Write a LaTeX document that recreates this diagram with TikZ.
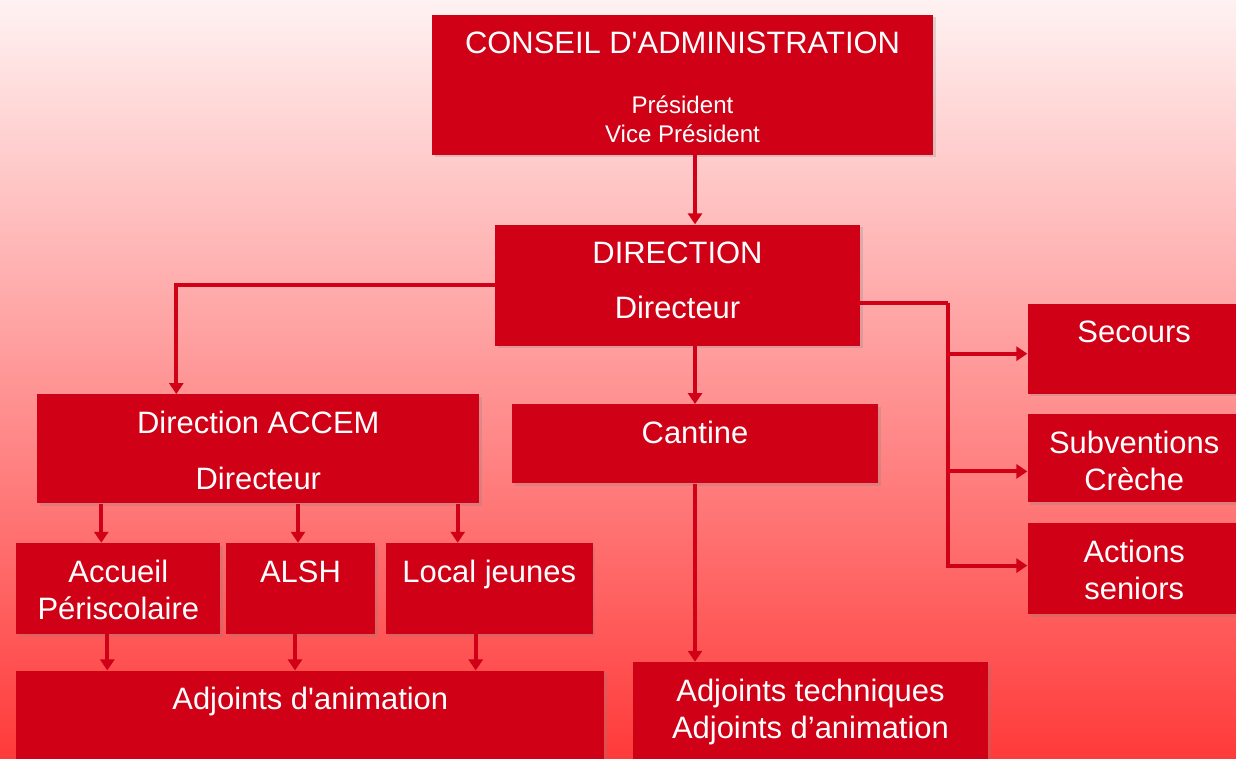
\documentclass[tikz,border=0pt]{standalone}
\usepackage{fontspec}
\setmainfont{Liberation Sans}
\usetikzlibrary{positioning, arrows.meta, shadows}
\definecolor{boxred}{RGB}{208,0,22}
\definecolor{bgtop}{RGB}{255,242,242}
\definecolor{bgbot}{RGB}{255,58,58}
\newcommand{\orgtext}[3]{\parbox[c][#2][t]{#1}{\centering\rule{0pt}{0.78cm}#3}}
\newcommand{\subfont}{\fontsize{13.7}{16.5}\selectfont}
\tikzstyle{orgbox} = [rectangle, 
inner sep=0pt, 
fill=boxred, 
text=white, 
font=\fontsize{17.6}{21}\selectfont, 
drop shadow={opacity=0.25, shadow xshift=0.05cm, shadow yshift=-0.05cm}]
\tikzstyle{link} = [line width=0.08cm, draw=boxred]
\tikzstyle{arrow} = [link, -{Triangle[width=0.28cm, length=0.22cm]}]
\begin{document}
\begin{tikzpicture}
  \clip (0,0) rectangle (24.72,-15.16);
  \shade [top color=bgtop, bottom color=bgbot] (0,0) rectangle (24.72,-15.16);
  \node (ca) [orgbox] at (13.65,-1.7) {\orgtext{10.02cm}{2.8cm}{CONSEIL D\textquotesingle ADMINISTRATION\par\vspace{17.6pt}\subfont Président\\Vice Président}};
  \node (dir) [orgbox, below=1.38cm of ca, xshift=-0.1cm] {\orgtext{7.3cm}{2.42cm}{DIRECTION\\[10.3pt]Directeur}};
  \node (cantine) [orgbox, below=1.16cm of dir, xshift=0.35cm] {\orgtext{7.32cm}{1.58cm}{Cantine}};
  \node (accem) [orgbox, left=0.64cm of cantine, yshift=-0.1cm] {\orgtext{8.84cm}{2.18cm}{Direction ACCEM\\[10.9pt]Directeur}};
  \node (secours) [orgbox, right=3.34cm of dir, yshift=-1.27cm] {\orgtext{4.26cm}{1.8cm}{Secours}};
  \node (subv) [orgbox, below=0.4cm of secours] {\orgtext{4.26cm}{1.76cm}{Subventions\\Crèche}};
  \node (actions) [orgbox, below=0.4cm of subv] {\orgtext{4.26cm}{1.82cm}{Actions\\seniors}};
  \node (accueil) [orgbox, below right=0.78cm and -0.42cm of accem.south west] {\orgtext{4.08cm}{1.82cm}{Accueil\\Périscolaire}};
  \node (alsh) [orgbox, right=0.1cm of accueil] {\orgtext{2.98cm}{1.82cm}{ALSH}};
  \node (local) [orgbox, right=0.2cm of alsh] {\orgtext{4.14cm}{1.82cm}{Local jeunes}};
  \node (adjanim) [orgbox, below right=0.72cm and 0cm of accueil.south west] {\orgtext{11.76cm}{2.2cm}{Adjoints d\textquotesingle animation}};
  \node (adjtech) [orgbox, below=3.56cm of cantine, xshift=2.31cm] {\orgtext{7.1cm}{2.2cm}{Adjoints techniques\\Adjoints d'animation}};

  \draw [arrow] (ca.south -| cantine.north) -- (dir.north -| cantine.north);
  \draw [arrow] (dir.south -| cantine.north) -- (cantine.north);
  \draw [arrow] (dir.west) -| ([xshift=-1.64cm]accem.north);
  \draw [link] ([yshift=-0.35cm]dir.east) -- ++(1.76cm,0) coordinate (split);
  \draw [arrow] (split) |- ([yshift=-0.1cm]secours.west);
  \draw [arrow] (split) |- ([yshift=-0.26cm]subv.west);
  \draw [arrow] (split) |- ([yshift=0.06cm]actions.west);
  \draw [arrow] ([xshift=-0.34cm]accueil.north |- accem.south) -- ([xshift=-0.34cm]accueil.north);
  \draw [arrow] ([xshift=-0.05cm]alsh.north |- accem.south) -- ([xshift=-0.05cm]alsh.north);
  \draw [arrow] ([xshift=-0.63cm]local.north |- accem.south) -- ([xshift=-0.63cm]local.north);
  \draw [arrow] ([xshift=-0.22cm]accueil.south) -- ([xshift=-0.22cm]accueil.south |- adjanim.north);
  \draw [arrow] ([xshift=-0.11cm]alsh.south) -- ([xshift=-0.11cm]alsh.south |- adjanim.north);
  \draw [arrow] ([xshift=-0.27cm]local.south) -- ([xshift=-0.27cm]local.south |- adjanim.north);
  \draw [arrow] (cantine.south) -- (cantine.south |- adjtech.north);
\end{tikzpicture}
\end{document}
